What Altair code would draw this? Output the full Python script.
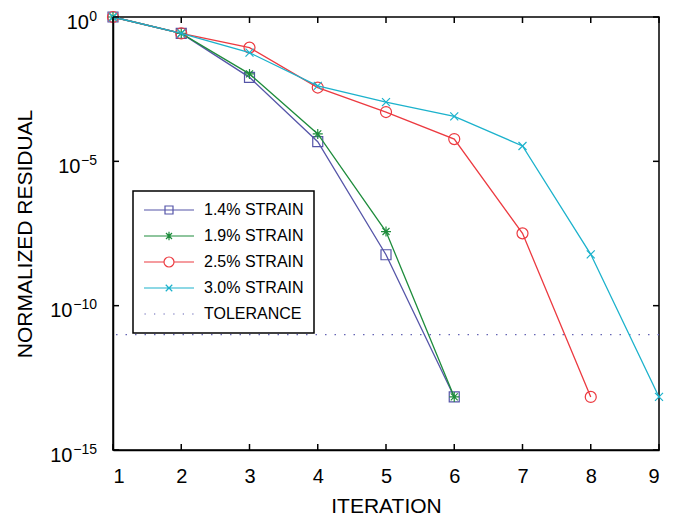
import altair as alt
import pandas as pd

# ---------------- data ----------------
iterations = [1, 2, 3, 4, 5, 6, 7, 8, 9]
series_names = ["1.4% STRAIN", "1.9% STRAIN", "2.5% STRAIN", "3.0% STRAIN"]
res_14 = [1.0, 2.7e-1, 8.1e-3, 4.8e-5, 5.8e-9, 6.9e-14]
res_19 = [1.0, 2.7e-1, 1.07e-2, 8.9e-5, 3.7e-8, 6.9e-14]
res_25 = [1.0, 2.7e-1, 8.7e-2, 3.6e-3, 5.1e-4, 5.9e-5, 3.2e-8, 6.9e-14]
res_30 = [1.0, 2.7e-1, 5.8e-2, 4.1e-3, 1.12e-3, 3.6e-4, 3.4e-5, 6.0e-9, 6.9e-14]
tolerance = 1e-11
tolerance_name = "TOLERANCE"

x_ticks = [1, 2, 3, 4, 5, 6, 7, 8, 9]
y_ticks = [1e-15, 1e-10, 1e-5, 1.0]
y_tick_base = "10"
y_tick_exponents = ["\u221215", "\u221210", "\u22125", "0"]

# ---------------- styles ----------------
series_colors = ["#5555a8", "#1e8c3c", "#ec3a40", "#1cb2cc"]
tolerance_color = "#6464b4"
marker_paths = [
    "M-1,-1H1V1H-1Z",
    "M-1,0H1M0,-1V1M-0.7,-0.7L0.7,0.7M-0.7,0.7L0.7,-0.7",
    "circle",
    "M-1,-1L1,1M-1,1L1,-1",
]
marker_sizes = [100, 100, 121, 64]
legend_paths = [
    "M-1,0H1M-0.16,-0.16H0.16V0.16H-0.16Z",
    "M-1,0H1M-0.17,0H0.17M0,-0.17V0.17M-0.12,-0.12L0.12,0.12M-0.12,0.12L0.12,-0.12",
    "M-1,0H-0.2M0.2,0H1M0.2,0A0.2,0.2,0,1,1,-0.2,0A0.2,0.2,0,1,1,0.2,0Z",
    "M-1,0H1M-0.13,-0.13L0.13,0.13M-0.13,0.13L0.13,-0.13",
]
tolerance_legend_path = ("M-0.98,0H-0.93M-0.6,0H-0.55M-0.22,0H-0.17"
                         "M0.17,0H0.22M0.55,0H0.6M0.93,0H0.98")

W, H = 546, 433
FONT = "Liberation Sans"
FRAME_W = 1.5
EXP_FONT = 14
EXP_RIGHT = 16  # gap between exponent's right edge and the axis
# padding of the "10" part = gap + exponent width (Liberation Sans metrics)
base_pad = {"0": EXP_RIGHT + 8.5, "-5": EXP_RIGHT + 17, "-10": EXP_RIGHT + 25, "-15": EXP_RIGHT + 25}

all_res = [res_14, res_19, res_25, res_30]
rows = []
for name, vals in zip(series_names, all_res):
    for it, v in zip(iterations, vals):
        rows.append({"series": name, "x": it, "y": v})
df = pd.DataFrame(rows)

pad_map = "{" + ",".join(f"'{k}':{v}" for k, v in base_pad.items()) + "}"

x_scale = alt.Scale(domain=[1, 9], nice=False, zero=False)
y_scale = alt.Scale(type="log", domain=[1e-15, 1.0], nice=False)

x_axis = alt.Axis(values=x_ticks, title="ITERATION", ticks=False, tickSize=0, grid=False,
                  labelPadding=16, labelFontSize=20, labelFont=FONT, labelColor="black",
                  titleFontSize=21, titleFont=FONT, titleFontWeight="normal", titleColor="black",
                  titleX=W / 2, titleY=56, titleBaseline="middle",
                  domainColor="black", domainWidth=FRAME_W)
y_axis = alt.Axis(values=y_ticks, title="NORMALIZED RESIDUAL", ticks=False, tickSize=0, grid=False,
                  labelExpr=f"'{y_tick_base}'",
                  labelPadding={"expr": f"{pad_map}[''+round(log(datum.value)/LN10)]"},
                  labelBaseline="alphabetic", labelOffset=11, labelAlign="right",
                  labelFontSize=20, labelFont=FONT, labelColor="black",
                  titleFontSize=21, titleFont=FONT, titleFontWeight="normal", titleColor="black",
                  titleX=-88, titleY=H / 2, titleAngle=270, titleAlign="center",
                  titleBaseline="middle", domainColor="black", domainWidth=FRAME_W)

X = alt.X("x:Q", scale=x_scale, axis=x_axis)
Y = alt.Y("y:Q", scale=y_scale, axis=y_axis)

layers = []

# tolerance line
tol_df = pd.DataFrame({"y": [tolerance]})
layers.append(alt.Chart(tol_df).mark_rule(color=tolerance_color, strokeWidth=1.2,
                                          strokeDash=[1.5, 8]).encode(y=Y))

# series lines with markers
for name, col, path, sz in zip(series_names, series_colors, marker_paths, marker_sizes):
    sub = df[df["series"] == name]
    layers.append(
        alt.Chart(sub).mark_line(
            color=col, strokeWidth=1.3,
            point=alt.OverlayMarkDef(shape=path, size=sz, filled=False, color=col,
                                     strokeWidth=1.2, opacity=1),
        ).encode(x=X, y=Y)
    )

# inward ticks
xt_df = pd.DataFrame({"x": x_ticks})
yt_df = pd.DataFrame({"y": y_ticks, "exp": y_tick_exponents})
layers.append(alt.Chart(xt_df).mark_rule(color="black", strokeWidth=FRAME_W).encode(
    x=X, y=alt.value(H), y2=alt.value(H - 6)))
layers.append(alt.Chart(xt_df).mark_rule(color="black", strokeWidth=FRAME_W).encode(
    x=X, y=alt.value(0), y2=alt.value(6)))
layers.append(alt.Chart(yt_df).mark_rule(color="black", strokeWidth=FRAME_W).encode(
    y=Y, x=alt.value(0), x2=alt.value(6)))
layers.append(alt.Chart(yt_df).mark_rule(color="black", strokeWidth=FRAME_W).encode(
    y=Y, x=alt.value(W - 6), x2=alt.value(W)))

# exponent parts of the y tick labels (superscripts)
layers.append(alt.Chart(yt_df).mark_text(
    align="right", baseline="alphabetic", dy=3.5, fontSize=EXP_FONT, font=FONT, color="black"
).encode(y=Y, x=alt.value(-EXP_RIGHT), text="exp:N"))

# legend (no marks drawn, only the legend)
legend_names = series_names + [tolerance_name]
legend_colors = series_colors + [tolerance_color]
legend_shapes = legend_paths + [tolerance_legend_path]
layers.append(
    alt.Chart(df).mark_point(filled=False, size=2500, strokeWidth=1.2, opacity=1).encode(
        x=X, y=Y,
        color=alt.Color("series:N", scale=alt.Scale(domain=legend_names, range=legend_colors),
                        legend=alt.Legend(title=None)),
        shape=alt.Shape("series:N", scale=alt.Scale(domain=legend_names, range=legend_shapes),
                        legend=alt.Legend(title=None)),
    ).transform_filter("false")
)

chart = alt.layer(*layers).properties(
    width=W, height=H,
    padding={"left": 113, "top": 17, "right": 17, "bottom": 68},
    autosize=alt.AutoSizeParams(type="none"),
    background="white",
).configure_view(
    stroke="black", strokeWidth=FRAME_W
).configure_legend(
    orient="none", legendX=20, legendY=174,
    strokeColor="black", strokeWidth=FRAME_W, fillColor="white", padding=10,
    labelFont=FONT, labelFontSize=16, labelColor="black", labelOffset=9,
    symbolSize=2500, symbolStrokeWidth=1.2, clipHeight=18, rowPadding=8,
    symbolOffset=0,
).configure_text(font=FONT)

chart.save("out.html", embed_options={"renderer": "svg", "actions": False})
